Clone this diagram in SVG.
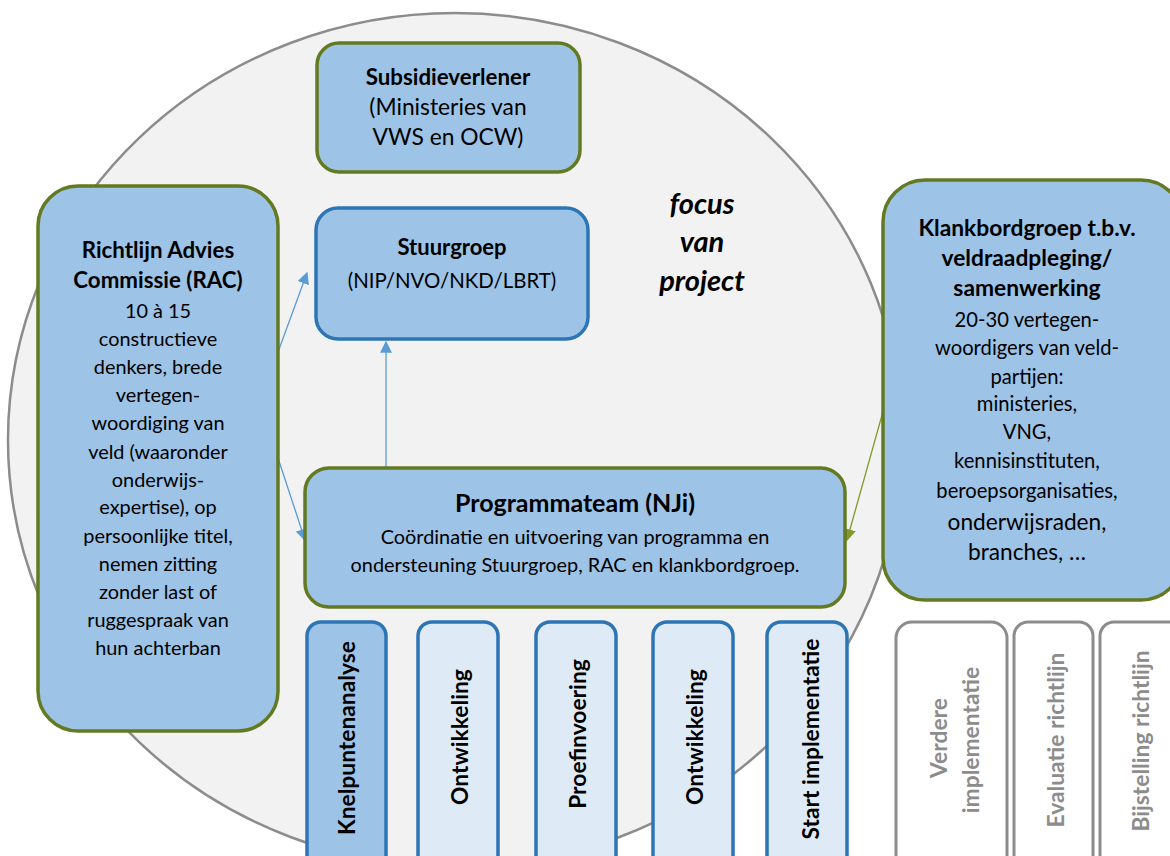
<svg xmlns="http://www.w3.org/2000/svg" width="1170" height="856" viewBox="0 0 1170 856">
<defs>
<style>
text{font-family:Lato,"Liberation Sans",sans-serif;fill:#000;text-anchor:middle}
.b{font-weight:bold;font-size:22.3px}
.n{font-size:19.9px}
.bx{fill:#9DC3E6;stroke-width:3.5}
.ol{stroke:#647A22}
.bl{stroke:#2E75B6}
.ph{fill:#DEEBF7;stroke:#2E75B6;stroke-width:3.5}
.gr{fill:#fff;stroke:#8C8C8C;stroke-width:3}
.pt{font-size:22.8px;font-weight:bold}
.gt{font-size:22.8px;font-weight:bold;fill:#8C8C8C}
.fp{font-size:29px;font-weight:bold;font-style:italic}
.cb{stroke:#5B9BD5;stroke-width:1.3;fill:none}
.cg{stroke:#7F9A2A;stroke-width:1.3;fill:none}
</style>
<marker id="ab" viewBox="0 0 10 10" refX="9" refY="5" markerWidth="12" markerHeight="12" markerUnits="userSpaceOnUse" orient="auto"><path d="M0,0 L10,5 L0,10 z" fill="#5B9BD5"/></marker>
<marker id="ag" viewBox="0 0 10 10" refX="9" refY="5" markerWidth="12" markerHeight="12" markerUnits="userSpaceOnUse" orient="auto"><path d="M0,0 L10,5 L0,10 z" fill="#7F9A2A"/></marker>
</defs>
<rect width="1170" height="856" fill="#fff"/>
<g id="focus">
<ellipse cx="455" cy="440" rx="447" ry="427" fill="#F2F2F2" stroke="#8C8C8C" stroke-width="2.5"/>
<text class="fp" x="702" y="214">focus</text>
<text class="fp" x="702" y="252">van</text>
<text class="fp" x="702" y="291">project</text>
</g>
<g id="connectors">
<line class="cb" x1="278" y1="352" x2="307" y2="273" marker-end="url(#ab)"/>
<line class="cb" x1="278" y1="458" x2="305" y2="540" marker-end="url(#ab)"/>
<line class="cb" x1="386" y1="467" x2="386" y2="342" marker-end="url(#ab)"/>
<line class="cg" x1="884" y1="408" x2="847" y2="540" marker-end="url(#ag)"/>
</g>
<g id="subsidieverlener">
<rect class="bx ol" x="317" y="43" width="263" height="129" rx="22"/>
<text class="b" x="448" y="85">Subsidieverlener</text>
<text style="font-size:22.8px" x="448" y="115">(Ministeries van</text>
<text style="font-size:22.8px" x="448" y="145">VWS en OCW)</text>
</g>
<g id="stuurgroep">
<rect class="bx bl" x="316" y="208" width="272" height="131" rx="22"/>
<text class="b" style="font-size:22px" x="452" y="255">Stuurgroep</text>
<text style="font-size:20.4px" x="452" y="288">(NIP/NVO/NKD/LBRT)</text>
</g>
<g id="rac">
<rect class="bx ol" x="38" y="186" width="240" height="545" rx="40"/>
<text class="b" x="158" y="258">Richtlijn Advies</text>
<text class="b" x="158" y="288">Commissie (RAC)</text>
<text class="n" x="158" y="318">10 à 15</text>
<text class="n" x="158" y="346">constructieve</text>
<text class="n" x="158" y="374">denkers, brede</text>
<text class="n" x="158" y="402">vertegen-</text>
<text class="n" x="158" y="430">woordiging van</text>
<text class="n" x="158" y="459">veld (waaronder</text>
<text class="n" x="158" y="487">onderwijs-</text>
<text class="n" x="158" y="514">expertise), op</text>
<text class="n" x="158" y="543">persoonlijke titel,</text>
<text class="n" x="158" y="571">nemen zitting</text>
<text class="n" x="158" y="599">zonder last of</text>
<text class="n" x="158" y="627">ruggespraak van</text>
<text class="n" x="158" y="655">hun achterban</text>
</g>
<g id="klankbordgroep">
<rect class="bx ol" x="883" y="180" width="300" height="420" rx="42"/>
<text class="b" style="font-size:22.8px" x="1027" y="236">Klankbordgroep t.b.v.</text>
<text class="b" style="font-size:22.8px" x="1027" y="266">veldraadpleging/</text>
<text class="b" style="font-size:22.8px" x="1027" y="296">samenwerking</text>
<text style="font-size:20.2px" x="1027" y="327">20-30 vertegen-</text>
<text style="font-size:20.2px" x="1027" y="355">woordigers van veld-</text>
<text style="font-size:20.2px" x="1027" y="384">partijen:</text>
<text style="font-size:20.2px" x="1027" y="411">ministeries,</text>
<text style="font-size:20.2px" x="1027" y="439">VNG,</text>
<text style="font-size:20.2px" x="1027" y="468">kennisinstituten,</text>
<text style="font-size:20.2px" x="1027" y="498">beroepsorganisaties,</text>
<text style="font-size:22.7px" x="1027" y="530">onderwijsraden,</text>
<text style="font-size:22.7px" x="1027" y="560">branches, …</text>
</g>
<g id="programmateam">
<rect class="bx ol" x="305" y="468" width="540" height="139" rx="24"/>
<text class="b" style="font-size:25px" x="575" y="512">Programmateam (NJi)</text>
<text class="n" x="575" y="544">Coördinatie en uitvoering van programma en</text>
<text class="n" x="575" y="572">ondersteuning Stuurgroep, RAC en klankbordgroep.</text>
</g>
<g id="knelpuntenanalyse">
<rect x="307" y="622" width="79" height="260" rx="14" fill="#9DC3E6" stroke="#2E75B6" stroke-width="3.5"/>
<text class="pt" x="346" y="738" dominant-baseline="central" transform="rotate(-90 346 738)">Knelpuntenanalyse</text>
</g>
<g id="ontwikkeling1">
<rect class="ph" x="418" y="622" width="80" height="260" rx="14"/>
<text class="pt" x="459" y="737" dominant-baseline="central" transform="rotate(-90 459 737)">Ontwikkeling</text>
</g>
<g id="proefinvoering">
<rect class="ph" x="536" y="622" width="80" height="260" rx="14"/>
<text class="pt" x="577" y="734" dominant-baseline="central" transform="rotate(-90 577 734)">Proefinvoering</text>
</g>
<g id="ontwikkeling2">
<rect class="ph" x="653" y="622" width="80" height="260" rx="14"/>
<text class="pt" x="694" y="737" dominant-baseline="central" transform="rotate(-90 694 737)">Ontwikkeling</text>
</g>
<g id="start-implementatie">
<rect class="ph" x="767" y="622" width="80" height="260" rx="14"/>
<text class="pt" x="810" y="739" dominant-baseline="central" transform="rotate(-90 810 739)">Start implementatie</text>
</g>
<g id="verdere-implementatie">
<rect class="gr" x="896" y="622" width="111" height="260" rx="16"/>
<text class="gt" x="938" y="738" dominant-baseline="central" transform="rotate(-90 938 738)">Verdere</text>
<text class="gt" x="970" y="740" dominant-baseline="central" transform="rotate(-90 970 740)">implementatie</text>
</g>
<g id="evaluatie-richtlijn">
<rect class="gr" x="1014" y="622" width="79" height="260" rx="14"/>
<text class="gt" x="1055" y="740" dominant-baseline="central" transform="rotate(-90 1055 740)">Evaluatie richtlijn</text>
</g>
<g id="bijstelling-richtlijn">
<rect class="gr" x="1100" y="622" width="90" height="260" rx="14"/>
<text class="gt" x="1140" y="741" dominant-baseline="central" transform="rotate(-90 1140 741)">Bijstelling richtlijn</text>
</g>
</svg>
